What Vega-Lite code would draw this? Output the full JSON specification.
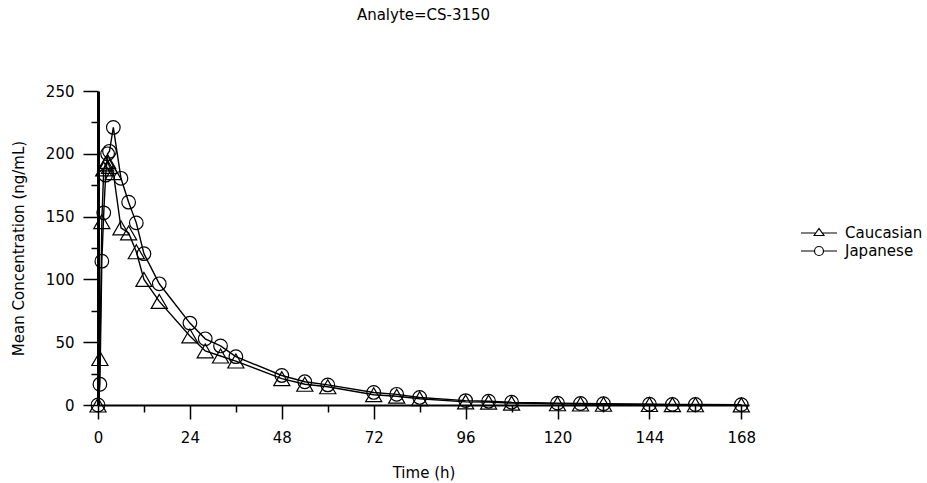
{
  "$schema": "https://vega.github.io/schema/vega-lite/v6.json",
  "width": 651,
  "height": 314,
  "autosize": "none",
  "padding": {"left": 98, "top": 91, "right": 178, "bottom": 78},
  "background": "white",
  "config": {
    "font": "DejaVu Sans",
    "view": {"stroke": null},
    "axis": {"grid": false}
  },
  "title": {
    "text": "Analyte=CS-3150",
    "font": "DejaVu Sans",
    "fontSize": 15,
    "fontWeight": "normal",
    "color": "black",
    "anchor": "middle",
    "offset": 61
  },
  "data": {
    "values": [
      {"group": "Caucasian", "time": 0, "conc": 0},
      {"group": "Caucasian", "time": 0.5, "conc": 37},
      {"group": "Caucasian", "time": 1, "conc": 146},
      {"group": "Caucasian", "time": 1.5, "conc": 188},
      {"group": "Caucasian", "time": 2, "conc": 192},
      {"group": "Caucasian", "time": 2.5, "conc": 194},
      {"group": "Caucasian", "time": 3, "conc": 190},
      {"group": "Caucasian", "time": 4, "conc": 185},
      {"group": "Caucasian", "time": 6, "conc": 141},
      {"group": "Caucasian", "time": 8, "conc": 137},
      {"group": "Caucasian", "time": 10, "conc": 122},
      {"group": "Caucasian", "time": 12, "conc": 100},
      {"group": "Caucasian", "time": 16, "conc": 82.5},
      {"group": "Caucasian", "time": 24, "conc": 55},
      {"group": "Caucasian", "time": 28, "conc": 43},
      {"group": "Caucasian", "time": 32, "conc": 39},
      {"group": "Caucasian", "time": 36, "conc": 35},
      {"group": "Caucasian", "time": 48, "conc": 21},
      {"group": "Caucasian", "time": 54, "conc": 16.5},
      {"group": "Caucasian", "time": 60, "conc": 14.5},
      {"group": "Caucasian", "time": 72, "conc": 8.2},
      {"group": "Caucasian", "time": 78, "conc": 7},
      {"group": "Caucasian", "time": 84, "conc": 5},
      {"group": "Caucasian", "time": 96, "conc": 2.5},
      {"group": "Caucasian", "time": 102, "conc": 2.3},
      {"group": "Caucasian", "time": 108, "conc": 1.5},
      {"group": "Caucasian", "time": 120, "conc": 1},
      {"group": "Caucasian", "time": 126, "conc": 0.8},
      {"group": "Caucasian", "time": 132, "conc": 0.6},
      {"group": "Caucasian", "time": 144, "conc": 0.4},
      {"group": "Caucasian", "time": 150, "conc": 0.3},
      {"group": "Caucasian", "time": 156, "conc": 0.2},
      {"group": "Caucasian", "time": 168, "conc": 0.1},
      {"group": "Japanese", "time": 0, "conc": 0},
      {"group": "Japanese", "time": 0.5, "conc": 16.5},
      {"group": "Japanese", "time": 1, "conc": 114.5},
      {"group": "Japanese", "time": 1.5, "conc": 153},
      {"group": "Japanese", "time": 2, "conc": 183},
      {"group": "Japanese", "time": 2.5, "conc": 200},
      {"group": "Japanese", "time": 3, "conc": 202},
      {"group": "Japanese", "time": 4, "conc": 221},
      {"group": "Japanese", "time": 6, "conc": 180.5},
      {"group": "Japanese", "time": 8, "conc": 161.5},
      {"group": "Japanese", "time": 10, "conc": 145},
      {"group": "Japanese", "time": 12, "conc": 120.5},
      {"group": "Japanese", "time": 16, "conc": 96.5},
      {"group": "Japanese", "time": 24, "conc": 65.2},
      {"group": "Japanese", "time": 28, "conc": 52.7},
      {"group": "Japanese", "time": 32, "conc": 47},
      {"group": "Japanese", "time": 36, "conc": 38.5},
      {"group": "Japanese", "time": 48, "conc": 23.5},
      {"group": "Japanese", "time": 54, "conc": 18.5},
      {"group": "Japanese", "time": 60, "conc": 16},
      {"group": "Japanese", "time": 72, "conc": 10},
      {"group": "Japanese", "time": 78, "conc": 8.5},
      {"group": "Japanese", "time": 84, "conc": 6},
      {"group": "Japanese", "time": 96, "conc": 3.5},
      {"group": "Japanese", "time": 102, "conc": 3},
      {"group": "Japanese", "time": 108, "conc": 2.2},
      {"group": "Japanese", "time": 120, "conc": 1.5},
      {"group": "Japanese", "time": 126, "conc": 1.2},
      {"group": "Japanese", "time": 132, "conc": 1.0},
      {"group": "Japanese", "time": 144, "conc": 0.6},
      {"group": "Japanese", "time": 150, "conc": 0.5},
      {"group": "Japanese", "time": 156, "conc": 0.4},
      {"group": "Japanese", "time": 168, "conc": 0.3}
    ]
  },
  "encoding": {
    "x": {
      "field": "time",
      "type": "quantitative",
      "scale": {"domain": [0, 170], "nice": false, "zero": false},
      "axis": {
        "title": "Time (h)",
        "values": [0, 12, 24, 36, 48, 60, 72, 84, 96, 108, 120, 132, 144, 156, 168],
        "labelExpr": "datum.value % 24 === 0 ? datum.label : ''",
        "labelFlush": false,
        "labelOverlap": false,
        "tickSize": {"condition": {"test": "datum.value % 24 === 0", "value": 14}, "value": 7},
        "tickColor": "black",
        "tickWidth": 1.5,
        "domainColor": "black",
        "domainWidth": 2,
        "labelFont": "DejaVu Sans",
        "labelFontSize": 15,
        "labelColor": "black",
        "labelPadding": 11,
        "titleFont": "DejaVu Sans",
        "titleFontSize": 15,
        "titleFontWeight": "normal",
        "titleColor": "black",
        "titlePadding": 20
      }
    },
    "y": {
      "field": "conc",
      "type": "quantitative",
      "scale": {"domain": [0, 250], "nice": false},
      "axis": {
        "title": "Mean Concentration (ng/mL)",
        "values": [0, 25, 50, 75, 100, 125, 150, 175, 200, 225, 250],
        "labelExpr": "datum.value % 50 === 0 ? datum.label : ''",
        "labelFlush": false,
        "labelOverlap": false,
        "tickSize": {"condition": {"test": "datum.value % 50 === 0", "value": 15}, "value": 7},
        "tickColor": "black",
        "tickWidth": 1.5,
        "domainColor": "black",
        "domainWidth": 3,
        "labelFont": "DejaVu Sans",
        "labelFontSize": 15,
        "labelColor": "black",
        "labelPadding": 9,
        "titleFont": "DejaVu Sans",
        "titleFontSize": 15,
        "titleFontWeight": "normal",
        "titleColor": "black",
        "titlePadding": 19
      }
    }
  },
  "layer": [
    {
      "mark": {"type": "line", "color": "black", "strokeWidth": 1.4},
      "encoding": {"detail": {"field": "group", "type": "nominal"}}
    },
    {
      "mark": {"type": "point", "filled": false, "color": "black", "opacity": 1, "strokeWidth": 1.2},
      "encoding": {
        "shape": {
          "field": "group",
          "type": "nominal",
          "scale": {"domain": ["Caucasian", "Japanese"], "range": ["triangle-up", "circle"]},
          "legend": null
        },
        "size": {
          "field": "group",
          "type": "nominal",
          "scale": {"domain": ["Caucasian", "Japanese"], "range": [260, 185]},
          "legend": null
        }
      }
    },
    {
      "mark": {"type": "point", "filled": false, "color": "black", "opacity": 0},
      "encoding": {
        "shape": {
          "field": "group",
          "type": "nominal",
          "scale": {
            "domain": ["Caucasian", "Japanese"],
            "range": [
              "M-2,0H-0.35M0.35,0H2M-0.55,0.28L0,-0.5L0.55,0.28Z",
              "M-2,0H-0.5M0.5,0H2M-0.5,0A0.5,0.5,0,1,1,0.5,0A0.5,0.5,0,1,1,-0.5,0"
            ]
          },
          "legend": {
            "title": null,
            "orient": "none",
            "legendX": 711,
            "legendY": 132,
            "padding": 0,
            "rowPadding": 0,
            "symbolSize": 324,
            "symbolStrokeWidth": 1.2,
            "symbolStrokeColor": "black",
            "symbolFillColor": "transparent",
            "labelFont": "DejaVu Sans",
            "labelFontSize": 15,
            "labelColor": "black",
            "labelOffset": 16,
            "encode": {
              "symbols": {
                "update": {
                  "opacity": {"value": 1},
                  "fill": {"value": "transparent"},
                  "stroke": {"value": "black"},
                  "strokeWidth": {"value": 1.2}
                }
              }
            }
          }
        }
      }
    }
  ],
  "resolve": {"scale": {"shape": "independent"}}
}
